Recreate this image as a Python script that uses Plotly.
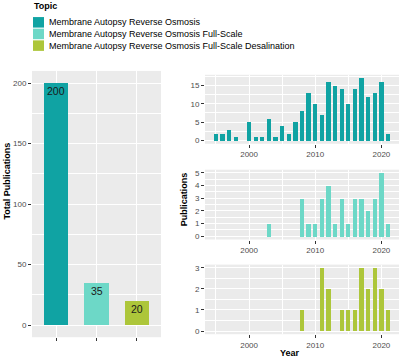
import plotly.graph_objects as go

# ---------------- data ----------------
topics = [
    "Membrane Autopsy Reverse Osmosis",
    "Membrane Autopsy Reverse Osmosis Full-Scale",
    "Membrane Autopsy Reverse Osmosis Full-Scale Desalination",
]
colors = ["#10A3A3", "#6DD8C7", "#ADC63A"]
total_publications = [200, 35, 20]

years_ro = [1995, 1996, 1997, 1998, 2000, 2001, 2002, 2003, 2004, 2005, 2006, 2007,
            2008, 2009, 2010, 2011, 2012, 2013, 2014, 2015, 2016, 2017, 2018, 2019,
            2020, 2021]
pubs_ro = [2, 2, 3, 1, 5, 1, 1, 6, 1, 4, 2, 5,
           8, 13, 10, 7, 16, 15, 14, 10, 14, 17, 12, 13,
           16, 2]

years_fs = [2003, 2008, 2009, 2010, 2011, 2012, 2013, 2014, 2015, 2016, 2017, 2018,
            2019, 2020, 2021]
pubs_fs = [1, 3, 1, 1, 3, 4, 1, 3, 1, 3, 3, 2, 3, 5, 1]

years_fsd = [2008, 2011, 2012, 2014, 2015, 2016, 2017, 2018, 2019, 2020, 2021]
pubs_fsd = [1, 3, 2, 1, 1, 1, 3, 2, 3, 2, 1]

year_ticks = [2000, 2010, 2020]
year_minor = [1995, 2005, 2015]

# ---------------- layout helpers ----------------
W, H = 401, 362
def fx(px):
    return px / W
def fy(py):
    return 1 - py / H

FONT = "Liberation Sans, Arial, sans-serif"
TICKFONT = dict(family=FONT, size=8, color="#4D4D4D")

def axis_style(**kw):
    d = dict(
        showline=False, zeroline=False,
        ticks="outside", ticklen=3, tickwidth=1, tickcolor="#333333",
        tickfont=TICKFONT, showgrid=True, gridcolor="white", gridwidth=1,
        fixedrange=True,
    )
    d.update(kw)
    return d

fig = go.Figure()

# Left: totals
fig.add_trace(go.Bar(
    x=topics, y=total_publications, marker=dict(color=colors, line=dict(width=0)),
    width=0.6, xaxis="x", yaxis="y", showlegend=False, hoverinfo="x+y",
))

# Right: per-year panels
for i, (yrs, vals) in enumerate([(years_ro, pubs_ro), (years_fs, pubs_fs), (years_fsd, pubs_fsd)]):
    fig.add_trace(go.Bar(
        x=yrs, y=vals, marker=dict(color=colors[i], line=dict(width=0)),
        width=0.65, xaxis=f"x{i+2}", yaxis=f"y{i+2}", showlegend=False,
        name=topics[i],
    ))

annotations = []
# value labels on totals
for t, v in zip(topics, total_publications):
    annotations.append(dict(
        x=t, y=v, xref="x", yref="y", text=str(v), showarrow=False,
        yshift=-8, font=dict(family=FONT, size=10.5, color="#1A1A1A"),
    ))

# axis titles
annotations.append(dict(
    x=0, y=fy(182), xref="paper", yref="paper", text="<b>Total Publications</b>",
    xanchor="left", textangle=-90, showarrow=False,
    font=dict(family=FONT, size=9, color="black"),
))
annotations.append(dict(
    x=fx(184), y=fy(200), xref="paper", yref="paper", text="<b>Publications</b>",
    textangle=-90, showarrow=False, font=dict(family=FONT, size=9, color="black"),
))
annotations.append(dict(
    x=fx(302), y=0, xref="paper", yref="paper", text="<b>Year</b>",
    yanchor="bottom", showarrow=False, font=dict(family=FONT, size=9, color="black"),
))

# manual legend
annotations.append(dict(
    x=fx(32), y=fy(5), xref="paper", yref="paper", text="<b>Topic</b>",
    xanchor="left", yanchor="middle", showarrow=False,
    font=dict(family=FONT, size=9, color="black"),
))
shapes = []
key_centers = [21.5, 33.2, 45.0]
for i, cy in enumerate(key_centers):
    shapes.append(dict(
        type="rect", xref="paper", yref="paper",
        x0=fx(33), x1=fx(44), y0=fy(cy + 5.3), y1=fy(cy - 5.3),
        fillcolor=colors[i], line=dict(width=0),
    ))
    annotations.append(dict(
        x=fx(47), y=fy(cy), xref="paper", yref="paper", text=topics[i],
        xanchor="left", yanchor="middle", showarrow=False,
        font=dict(family=FONT, size=9, color="black"),
    ))

right_dom = [fx(205), fx(399)]
x_right = dict(
    range=[1993.34, 2022.66], tickvals=year_ticks, ticktext=[str(v) for v in year_ticks],
    minor=dict(tickvals=year_minor, showgrid=True, gridcolor="white", gridwidth=0.5, ticks=""),
)

fig.update_layout(
    width=W, height=H, margin=dict(l=0, r=0, t=0, b=0),
    paper_bgcolor="white", plot_bgcolor="#EBEBEB",
    font=dict(family=FONT), bargap=0,
    showlegend=False,
    annotations=annotations, shapes=shapes,
    xaxis=axis_style(domain=[fx(32), fx(161)], anchor="y", type="category",
                     range=[-0.6, 2.6], tickvals=topics, ticktext=["", "", ""]),
    yaxis=axis_style(domain=[fy(339), fy(70.5)], anchor="x", range=[-10, 210],
                     tickvals=[0, 50, 100, 150, 200],
                     minor=dict(tickvals=[25, 75, 125, 175], showgrid=True,
                                gridcolor="white", gridwidth=0.5, ticks="")),
    xaxis2=axis_style(domain=right_dom, anchor="y2", **x_right),
    yaxis2=axis_style(domain=[fy(144), fy(74.4)], anchor="x2", range=[-0.85, 17.85],
                      tickvals=[0, 5, 10, 15],
                      minor=dict(tickvals=[2.5, 7.5, 12.5, 17.5], showgrid=True,
                                 gridcolor="white", gridwidth=0.5, ticks="")),
    xaxis3=axis_style(domain=right_dom, anchor="y3", **x_right),
    yaxis3=axis_style(domain=[fy(240.5), fy(170.1)], anchor="x3", range=[-0.25, 5.25],
                      tickvals=[0, 1, 2, 3, 4, 5],
                      minor=dict(tickvals=[0.5, 1.5, 2.5, 3.5, 4.5], showgrid=True,
                                 gridcolor="white", gridwidth=0.5, ticks="")),
    xaxis4=axis_style(domain=right_dom, anchor="y4", **x_right),
    yaxis4=axis_style(domain=[fy(336), fy(265.8)], anchor="x4", range=[-0.15, 3.15],
                      tickvals=[0, 1, 2, 3],
                      minor=dict(tickvals=[0.5, 1.5, 2.5], showgrid=True,
                                 gridcolor="white", gridwidth=0.5, ticks="")),
)

fig.write_html("out.html", config={"displayModeBar": False},
               post_script="document.body.style.margin='0';")
